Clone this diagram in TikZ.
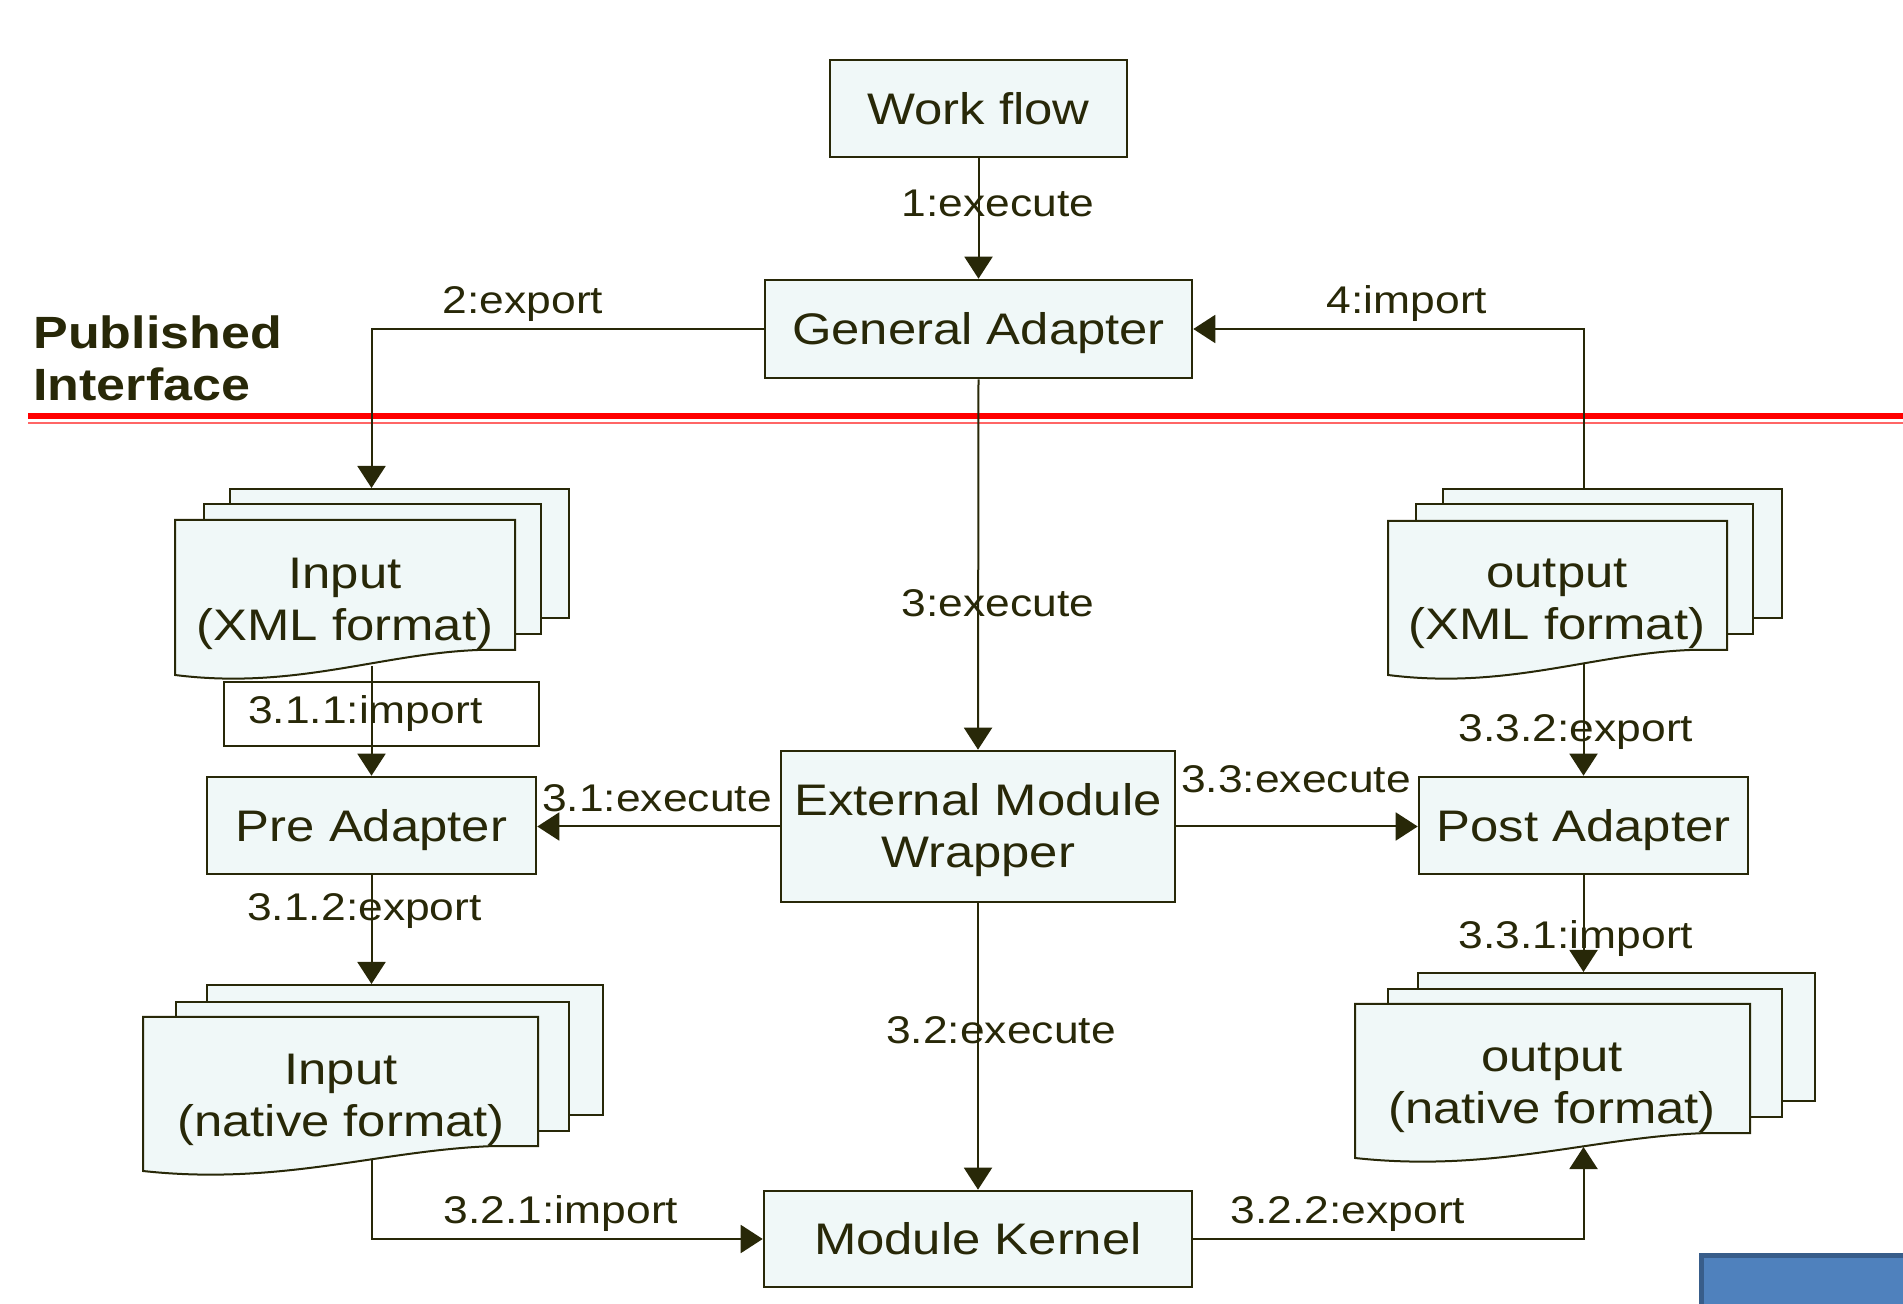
\documentclass[tikz,border=0pt]{standalone}
\usepackage{fontspec}
\setmainfont[FakeStretch=1.15]{Liberation Sans}
\usetikzlibrary{arrows.meta}
\definecolor{dk}{RGB}{40,40,8}
\definecolor{lc}{RGB}{240,248,248}
\definecolor{bluef}{RGB}{79,129,189}
\definecolor{blued}{RGB}{56,93,138}
\newcommand\boxfont{\fontsize{22.1}{26}\selectfont}
\newcommand\labfont{\fontsize{19.3}{22}\selectfont}
\newcommand\pubfont{\fontsize{22.6}{26}\selectfont\bfseries}
\newcommand\docfront[4]{%
  \filldraw[docline] (#1,#2) -- ({#1+#3},#2) -- ({#1+#3},{#2+#4-25}) -- ({#1+0.89*#3},{#2+#4-25})
    .. controls ({#1+0.6*#3},{#2+#4-21}) and ({#1+0.35*#3},{#2+#4+15}) .. (#1,{#2+#4}) -- cycle;}
\begin{document}
\begin{tikzpicture}[x=0.5pt,y=-0.5pt,
  box/.style={draw=dk, fill=lc, line width=1.3pt, text=dk, font=\boxfont, inner sep=0pt, align=center},
  onebox/.style={box, text height=15.8pt, text depth=0pt},
  docline/.style={draw=dk, fill=lc, line width=1pt},
  docrect/.style={docline, anchor=north west, inner sep=0pt},
  doctext/.style={text=dk, font=\boxfont, align=center, inner sep=0pt},
  lab/.style={text=dk, font=\labfont, inner sep=0pt, text height=13.8pt, text depth=0pt},
  arr/.style={draw=dk, line width=1pt, -{Triangle[length=11pt,width=14pt]}},
  labbox/.style={draw=dk, fill=white, line width=1pt, text=dk, font=\labfont}
]
\useasboundingbox (0,0) rectangle (1903,1304);
\clip (0,0) rectangle (1903,1304);
\fill[white] (0,0) rectangle (1903,1304);

% published interface line
\draw[red, line width=3pt] (28,416) -- (1903,416);
\draw[red!60, line width=1pt] (28,423.5) -- (1903,423.5);
\node[anchor=north west, inner sep=0pt, text=dk, font=\pubfont, align=left] (pub) at (33,315) {Published\\Interface};

% blue corner
\filldraw[fill=bluef, draw=blued, line width=2.5pt] (1701.5,1255.5) rectangle (1930,1330);

% boxes
\node[onebox, minimum width=148.5pt, minimum height=48.5pt] (wf) at (978.5,108.5) {Work flow};
\node[onebox, minimum width=213.5pt, minimum height=49pt] (gen) at (978.5,329) {General Adapter};
\node[box, minimum width=197pt, minimum height=75.5pt] (emw) at (978,826.5) {};
\node[doctext] (emwt) at (978,830.5) {External Module\\Wrapper};
\node[onebox, minimum width=164.5pt, minimum height=48.5pt] (prea) at (371.5,825.5) {Pre Adapter};
\node[onebox, minimum width=164.5pt, minimum height=48.5pt] (posta) at (1583.5,825.5) {Post Adapter};
\node[onebox, minimum width=214pt, minimum height=48pt] (mk) at (978,1239) {Module Kernel};

% Input XML stack
\node[docrect, minimum width=169.5pt, minimum height=64.5pt] (inxmlC) at (229,488) {};
\node[docrect, minimum width=168.5pt, minimum height=65pt] (inxmlB) at (203,503) {};
\docfront{175}{520}{340}{155}
\node[doctext] (inxml) at (345,604) {Input\\(XML format)};
\coordinate (inxmlbot) at (371.5,666);

% Output XML stack
\node[docrect, minimum width=169.5pt, minimum height=64.5pt] (outxmlC) at (1442,488) {};
\node[docrect, minimum width=168.5pt, minimum height=65pt] (outxmlB) at (1415,503) {};
\docfront{1388}{521}{339}{154}
\node[doctext] (outxml) at (1557,604) {output\\(XML format)};
\coordinate (outxmlbot) at (1583.5,663);

% Input native stack
\node[docrect, minimum width=198pt, minimum height=65pt] (innatC) at (206,984) {};
\node[docrect, minimum width=196.5pt, minimum height=64.5pt] (innatB) at (175,1001) {};
\docfront{143}{1017}{395}{154}
\node[doctext] (innat) at (341,1100) {Input\\(native format)};
\coordinate (innatbot) at (371.5,1159);

% Output native stack
\node[docrect, minimum width=198.5pt, minimum height=64pt] (outnatC) at (1417,972) {};
\node[docrect, minimum width=197pt, minimum height=64pt] (outnatB) at (1387,988) {};
\docfront{1355}{1004}{395}{154}
\node[doctext] (outnat) at (1552,1088) {output\\(native format)};
\coordinate (outnatbot) at (1583.5,1147);

% 3.1.1 label box
\node[labbox, anchor=west, inner xsep=12pt, inner ysep=0pt, text width=133.5pt, align=left, minimum height=32pt] (imp311) at (223,714) {3.1.1:import};

% connectors
\draw[arr] (wf.south) -- (gen.north);
\draw[arr] (gen.west) -| (prea.north |- inxmlC.north);
\draw[arr] (outxmlC.north -| posta.north) |- (gen.east);
\draw[arr] (gen.south) -- (emw.north);
\draw[arr] (inxmlbot) -- (prea.north);
\draw[arr] (emw.west) -- (emw.west -| prea.east);
\draw[arr] (emw.east) -- (emw.east -| posta.west);
\draw[arr] (prea.south) -- (prea.south |- innatC.north);
\draw[arr] (outxmlbot) -- (posta.north);
\draw[arr] (posta.south) -- (posta.south |- outnatC.north);
\draw[arr] (emw.south) -- (mk.north);
\draw[arr] (innatbot) |- (mk.west);
\draw[arr] (mk.east) -| (outnatbot);

% labels
\node[lab] (l1) at (998,203) {1:execute};
\node[lab] (l2) at (523,300) {2:export};
\node[lab] (l4) at (1407,300) {4:import};
\node[lab] (l3) at (998,603) {3:execute};
\node[lab] (l31) at (657,798) {3.1:execute};
\node[lab] (l33) at (1296,779) {3.3:execute};
\node[lab] (l332) at (1576,728) {3.3.2:export};
\node[lab] (l331) at (1576,935) {3.3.1:import};
\node[lab] (l312) at (364.5,907) {3.1.2:export};
\node[lab] (l32) at (1001,1030) {3.2:execute};
\node[lab] (l321) at (561,1210) {3.2.1:import};
\node[lab] (l322) at (1348,1210) {3.2.2:export};
\end{tikzpicture}
\end{document}
